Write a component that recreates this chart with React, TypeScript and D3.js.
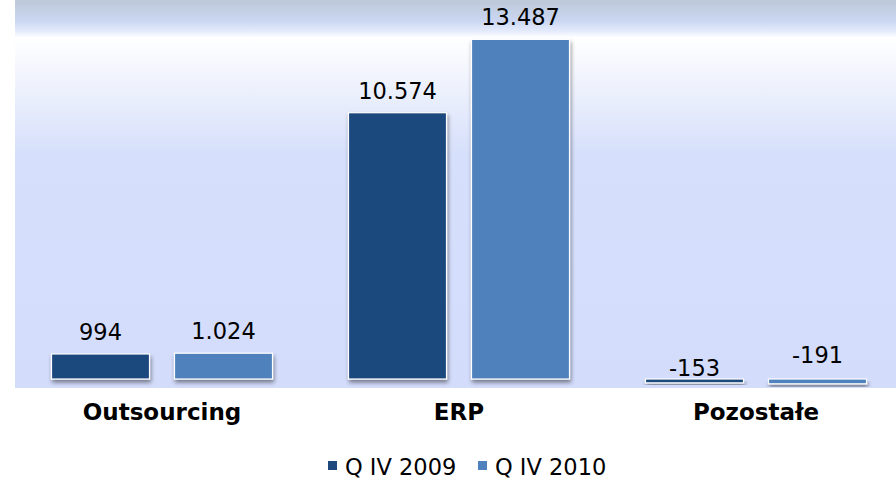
import React from "react";
import * as d3 from "d3";

const categories = ["Outsourcing", "ERP", "Pozostałe"];
const seriesNames = ["Q IV 2009", "Q IV 2010"];
const q4_2009 = [994, 10574, -153];
const q4_2010 = [1024, 13487, -191];
const seriesValues = [q4_2009, q4_2010];
const colors = ["#1f497d", "#4f81bd"];

const W = 896;
const H = 492;
const FONT = "Verdana, 'DejaVu Sans', sans-serif";

const fmt = (v: number) => {
  const s = d3.format(",")(v);
  return s.replace(/,/g, ".").replace(/\u2212/g, "-");
};

export default function App() {
  const x0 = d3
    .scaleBand<string>()
    .domain(categories)
    .range([13.5, 904.5])
    .paddingInner(76 / 297)
    .paddingOuter(38 / 297);
  const x1 = d3
    .scaleBand<string>()
    .domain(seriesNames)
    .range([0, x0.bandwidth()])
    .paddingInner(25 / 123)
    .paddingOuter(0);
  const y = d3.scaleLinear().domain([0, 15050]).range([379, 0]);
  const y0 = y(0);

  return (
    <svg
      width={W}
      height={H}
      style={{ position: "absolute", left: 0, top: 0, display: "block" }}
      fontFamily={FONT}
    >
      <defs>
        <linearGradient id="bg" x1="0" y1="0" x2="0" y2="1">
          <stop offset="0" stopColor="#bdc9d8" />
          <stop offset="0.055" stopColor="#cbd7f2" />
          <stop offset="0.08" stopColor="#e4ebfb" />
          <stop offset="0.097" stopColor="#ffffff" />
          <stop offset="0.2" stopColor="#f1f4fd" />
          <stop offset="0.4" stopColor="#d6dffb" />
          <stop offset="1" stopColor="#d3dcfb" />
        </linearGradient>
        <filter id="shadow" x="-10%" y="-10%" width="120%" height="160%">
          <feGaussianBlur in="SourceAlpha" stdDeviation="2" />
          <feOffset dx="1" dy="3" result="off" />
          <feComponentTransfer>
            <feFuncA type="linear" slope="0.45" />
          </feComponentTransfer>
          <feMerge>
            <feMergeNode />
            <feMergeNode in="SourceGraphic" />
          </feMerge>
        </filter>
      </defs>
      <rect x={0} y={0} width={W} height={H} fill="#ffffff" />
      <rect x={15} y={0} width={W - 15} height={388} fill="url(#bg)" />
      <line
        x1={15}
        x2={W}
        y1={y0}
        y2={y0}
        stroke="#8c8c8c"
        strokeWidth={1.5}
        filter="url(#shadow)"
      />
      {categories.map((c, ci) => (
        <g key={c} transform={`translate(${x0(c)},0)`}>
          {seriesNames.map((s, si) => {
            const v = seriesValues[si][ci];
            const bx = x1(s)!;
            const bw = x1.bandwidth();
            const top = Math.min(y(v), y0);
            const h = Math.abs(y(v) - y0);
            const cx = bx + bw / 2;
            let ly: number;
            if (v >= 0) ly = y(v) - 14;
            else ly = y0 - (si === 0 ? 3 : 16);
            return (
              <g key={s}>
                <rect
                  x={bx}
                  y={top}
                  width={bw}
                  height={Math.max(h, 1)}
                  fill={colors[si]}
                  stroke="#ffffff"
                  strokeWidth={1.2}
                  filter="url(#shadow)"
                />
                <text
                  x={cx}
                  y={ly}
                  textAnchor="middle"
                  fontSize={22.5}
                  fill="#000"
                >
                  {fmt(v)}
                </text>
              </g>
            );
          })}
          <text
            x={x0.bandwidth() / 2}
            y={420}
            textAnchor="middle"
            fontSize={23}
            fontWeight="bold"
            fill="#000"
          >
            {c}
          </text>
        </g>
      ))}
      <g>
        {seriesNames.map((s, si) => {
          const lx = [328, 478][si];
          return (
            <g key={s}>
              <rect x={lx} y={461} width={9} height={9} fill={colors[si]} />
              <text x={lx + 17} y={475} fontSize={22.5} fill="#000">
                {s}
              </text>
            </g>
          );
        })}
      </g>
    </svg>
  );
}
